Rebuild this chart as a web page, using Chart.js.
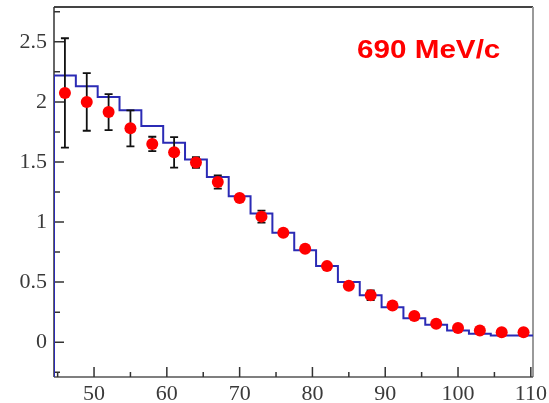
<!DOCTYPE html>
<html>
<head>
<meta charset="utf-8">
<script src="https://cdn.jsdelivr.net/npm/chart.js@4"></script>
<style>
  html, body { margin: 0; padding: 0; background: #ffffff; }
  #wrap { width: 549px; height: 403px; }
</style>
</head>
<body>
<div id="wrap"><canvas id="c" width="549" height="403"></canvas></div>
<script>
// Measured angular distribution (points with errors)
const angles   = [46, 49, 52, 55, 58, 61, 64, 67, 70, 73, 76, 79, 82, 85, 88, 91, 94, 97, 100, 103, 106, 109];
const measured = [2.075, 2.0, 1.915, 1.78, 1.65, 1.58, 1.495, 1.333, 1.2, 1.045, 0.91, 0.778, 0.633, 0.47, 0.39, 0.306, 0.217, 0.153, 0.117, 0.097, 0.083, 0.083];
const errors   = [0.455, 0.24, 0.15, 0.15, 0.06, 0.127, 0.045, 0.055, 0.02, 0.05, 0.02, 0.02, 0.02, 0.02, 0.04, 0.02, 0.02, 0.02, 0.02, 0.02, 0.02, 0.02];

// Simulated histogram: bin edges and bin contents
const binEdges  = [44.5, 47.5, 50.5, 53.5, 56.5, 59.5, 62.5, 65.5, 68.5, 71.5, 74.5, 77.5, 80.5, 83.5, 86.5, 89.5, 92.5, 95.5, 98.5, 101.5, 104.5, 107.5, 110.5];
const simulated = [2.22, 2.13, 2.04, 1.93, 1.80, 1.66, 1.52, 1.375, 1.215, 1.07, 0.91, 0.765, 0.635, 0.50, 0.39, 0.29, 0.20, 0.145, 0.097, 0.07, 0.056, 0.056];

// Axis ranges and tick values
const X_MIN = 44.5, X_MAX = 110.3;
const Y_MIN = -0.29, Y_MAX = 2.79;
const xTicks = [50, 60, 70, 80, 90, 100, 110];
const xMinorTicks = [45, 55, 65, 75, 85, 95, 105];
const yTicks = [0, 0.5, 1, 1.5, 2, 2.5];
const yMinorTicks = [-0.25, 0.25, 0.75, 1.25, 1.75, 2.25, 2.75];
const momentumLabel = '690 MeV/c';

// Build step outline of the histogram, rising from the bottom of the frame
const histPoints = [{ x: binEdges[0], y: Y_MIN }];
simulated.forEach((v, i) => histPoints.push({ x: binEdges[i], y: v }));
histPoints.push({ x: binEdges[binEdges.length - 1], y: simulated[simulated.length - 1] });

const pointData = angles.map((a, i) => ({ x: a, y: measured[i] }));

// Error bars, drawn just before the marker dataset so the markers sit on top
const errorBars = {
  id: 'errorBars',
  beforeDatasetDraw(chart, args) {
    if (args.index !== 0) return;
    const { ctx, scales: { x, y } } = chart;
    ctx.save();
    ctx.strokeStyle = '#111111';
    ctx.lineWidth = 1.8;
    const cap = 4;
    angles.forEach((a, i) => {
      const px = x.getPixelForValue(a);
      const top = y.getPixelForValue(measured[i] + errors[i]);
      const bot = y.getPixelForValue(measured[i] - errors[i]);
      ctx.beginPath();
      ctx.moveTo(px, top); ctx.lineTo(px, bot);
      ctx.moveTo(px - cap, top); ctx.lineTo(px + cap, top);
      ctx.moveTo(px - cap, bot); ctx.lineTo(px + cap, bot);
      ctx.stroke();
    });
    ctx.restore();
  }
};

// Frame with inward tick marks
const frame = {
  id: 'frame',
  beforeDatasetsDraw(chart) {
    const { ctx, chartArea: a, scales: { x, y } } = chart;
    ctx.save();
    ctx.lineCap = 'butt';
    // top and right edges
    ctx.strokeStyle = '#444444'; ctx.lineWidth = 2;
    ctx.beginPath(); ctx.moveTo(a.left, a.top); ctx.lineTo(a.right, a.top); ctx.stroke();
    ctx.strokeStyle = '#9a9a9a'; ctx.lineWidth = 2;
    ctx.beginPath(); ctx.moveTo(a.right, a.top); ctx.lineTo(a.right, a.bottom); ctx.stroke();
    // left and bottom axes
    ctx.strokeStyle = '#333333'; ctx.lineWidth = 1.5;
    ctx.beginPath(); ctx.moveTo(a.left, a.top); ctx.lineTo(a.left, a.bottom); ctx.stroke();
    ctx.strokeStyle = '#555555';
    ctx.beginPath(); ctx.moveTo(a.left, a.bottom); ctx.lineTo(a.right, a.bottom); ctx.stroke();
    // ticks
    ctx.strokeStyle = '#333333'; ctx.lineWidth = 1.5;
    ctx.beginPath();
    xTicks.forEach(v => { const p = x.getPixelForValue(v); ctx.moveTo(p, a.bottom); ctx.lineTo(p, a.bottom - 10); });
    xMinorTicks.forEach(v => { const p = x.getPixelForValue(v); ctx.moveTo(p, a.bottom); ctx.lineTo(p, a.bottom - 5); });
    yTicks.forEach(v => { const p = y.getPixelForValue(v); ctx.moveTo(a.left, p); ctx.lineTo(a.left + 10, p); });
    yMinorTicks.forEach(v => { const p = y.getPixelForValue(v); ctx.moveTo(a.left, p); ctx.lineTo(a.left + 6, p); });
    ctx.stroke();
    ctx.restore();
  },
  afterDraw(chart) {
    const { ctx } = chart;
    ctx.save();
    ctx.fillStyle = '#ff0000';
    ctx.font = 'bold 26px "Liberation Sans", Arial, sans-serif';
    ctx.textBaseline = 'alphabetic';
    ctx.translate(357, 58);
    ctx.scale(1.14, 1);
    ctx.fillText(momentumLabel, 0, 0);
    ctx.restore();
  }
};

const tickFont = { family: '"Liberation Serif", "Times New Roman", serif', size: 22 };

new Chart(document.getElementById('c'), {
  type: 'scatter',
  data: {
    datasets: [
      {
        label: 'data',
        data: pointData,
        pointRadius: 6,
        pointHoverRadius: 6,
        pointBackgroundColor: '#ff0000',
        pointBorderWidth: 0,
        showLine: false
      },
      {
        type: 'line',
        label: 'simulation',
        data: histPoints,
        stepped: true,
        borderColor: '#2b2bb5',
        borderWidth: 2,
        pointRadius: 0,
        fill: false,
        tension: 0
      }
    ]
  },
  plugins: [frame, errorBars],
  options: {
    responsive: false,
    animation: false,
    events: [],
    layout: { padding: { top: 7, right: 16, left: 0, bottom: 0 } },
    plugins: { legend: { display: false }, tooltip: { enabled: false } },
    scales: {
      x: {
        type: 'linear',
        min: X_MIN, max: X_MAX,
        afterBuildTicks: s => { s.ticks = xTicks.map(v => ({ value: v })); },
        afterFit: s => { s.height = 26; s.paddingLeft = 0; s.paddingRight = 0; },
        grid: { display: false, drawTicks: false },
        border: { display: false },
        ticks: { font: tickFont, color: '#3a3a3a', padding: 4, maxRotation: 0, autoSkip: false, callback: v => String(v) }
      },
      y: {
        type: 'linear',
        min: Y_MIN, max: Y_MAX,
        afterBuildTicks: s => { s.ticks = yTicks.map(v => ({ value: v })); },
        afterFit: s => { s.width = 54; s.paddingTop = 0; s.paddingBottom = 0; },
        grid: { display: false, drawTicks: false },
        border: { display: false },
        ticks: { font: tickFont, color: '#3a3a3a', padding: 7, autoSkip: false, callback: v => String(v) }
      }
    }
  }
});
</script>
</body>
</html>
